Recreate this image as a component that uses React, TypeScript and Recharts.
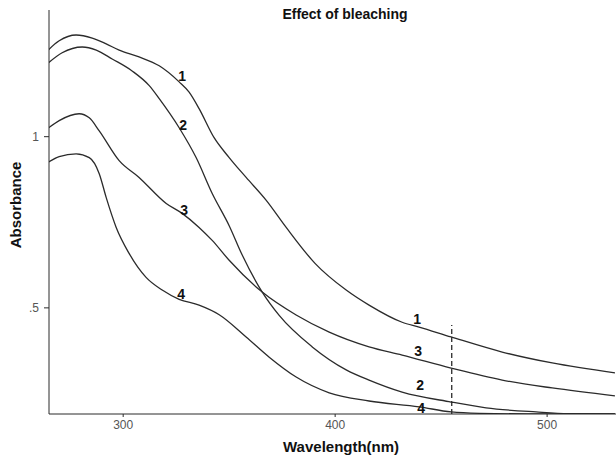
import { LineChart, Line, XAxis, YAxis, ReferenceLine, ReferenceDot } from "recharts"

// Absorbance spectra, one array per curve
const WL_1 = [264.6, 269.8, 277.8, 285.4, 292, 298.1, 307.5, 317, 326.4, 331.1, 335.8, 342.9, 350, 358, 367.5, 376.9, 390.5, 405.2, 416, 431.6, 439.6, 454.7, 478.8, 502.4, 532]
const ABS_1 = [1.253, 1.28, 1.297, 1.288, 1.271, 1.253, 1.233, 1.207, 1.16, 1.13, 1.082, 0.997, 0.939, 0.881, 0.814, 0.735, 0.63, 0.552, 0.508, 0.458, 0.444, 0.415, 0.371, 0.339, 0.31]

const WL_2 = [264.6, 271.2, 280.7, 287.3, 294.8, 304.2, 312.3, 317, 326.4, 334.4, 342, 350, 356.1, 365.6, 373.6, 389.2, 405.2, 416, 431.6, 454.7, 471.2, 494.8, 510, 532]
const ABS_2 = [1.215, 1.245, 1.262, 1.253, 1.227, 1.192, 1.149, 1.111, 1.026, 0.939, 0.834, 0.74, 0.655, 0.546, 0.478, 0.386, 0.319, 0.289, 0.254, 0.225, 0.208, 0.196, 0.191, 0.19]

const WL_3 = [264.2, 269.8, 279.2, 284, 288.7, 298.1, 307.5, 320.3, 327.8, 335.8, 342, 350, 365.6, 381.6, 397.2, 416, 431.6, 454.7, 478.8, 502.4, 532]
const ABS_3 = [1.023, 1.047, 1.067, 1.055, 1.017, 0.93, 0.881, 0.805, 0.776, 0.735, 0.697, 0.639, 0.546, 0.479, 0.429, 0.386, 0.362, 0.324, 0.289, 0.266, 0.243]

const WL_4 = [264.2, 269.8, 277.8, 284, 288.7, 292, 296.7, 302.8, 310.8, 318.4, 326.4, 335.8, 345.3, 358, 368.9, 381.6, 397.2, 416, 439.6, 454.7, 468, 500, 532]
const ABS_4 = [0.924, 0.942, 0.95, 0.939, 0.892, 0.822, 0.735, 0.659, 0.589, 0.552, 0.525, 0.508, 0.48, 0.415, 0.356, 0.298, 0.252, 0.228, 0.211, 0.196, 0.192, 0.19, 0.19]

const X_TICKS = [300, 400, 500]
const Y_TICKS = [0.5, 1]

// curve number labels (wavelength, absorbance)
const LABEL_NAMES = ["1", "2", "3", "4", "1", "3", "2", "4"]
const LABEL_WL = [327.8, 328.3, 328.8, 327.4, 438.7, 439.2, 440.1, 440.6]
const LABEL_ABS = [1.178, 1.035, 0.785, 0.54, 0.467, 0.374, 0.275, 0.208]

const CUT_WL = 455
const CUT_TOP = 0.45

const toRows = (wl: number[], abs: number[]) => wl.map((w, i) => ({ wl: w, a: abs[i] }))
const SERIES = [toRows(WL_1, ABS_1), toRows(WL_2, ABS_2), toRows(WL_3, ABS_3), toRows(WL_4, ABS_4)]

const FONT = "'Liberation Sans', Arial, sans-serif"
const INK = "#2b2b2b"

export default function App() {
  return (
    <div style={{ position: "absolute", left: 0, top: 0, width: 616, height: 460, background: "#fff", fontFamily: FONT }}>
      <LineChart width={616} height={460} margin={{ top: 10, right: 0, bottom: 16, left: 0 }}>
        <XAxis
          type="number"
          dataKey="wl"
          domain={[265, 532.5]}
          ticks={X_TICKS}
          allowDataOverflow
          height={30}
          stroke={INK}
          tickSize={3}
          tickMargin={3}
          tick={{ fill: "#555", fontSize: 12, fontFamily: FONT }}
        />
        <YAxis
          type="number"
          domain={[0.19, 1.37]}
          ticks={Y_TICKS}
          allowDataOverflow
          width={49}
          stroke={INK}
          tickSize={5}
          tickMargin={5}
          tickFormatter={(v) => (v === 1 ? "1" : ".5")}
          tick={{ fill: "#555", fontSize: 12, fontFamily: FONT }}
        />
        {SERIES.map((rows, i) => (
          <Line
            key={i}
            data={rows}
            dataKey="a"
            type="monotone"
            stroke={INK}
            strokeWidth={1.3}
            dot={false}
            isAnimationActive={false}
          />
        ))}
        <ReferenceLine
          segment={[{ x: CUT_WL, y: 0.19 }, { x: CUT_WL, y: CUT_TOP }]}
          stroke={INK}
          strokeWidth={1.3}
          strokeDasharray="5 3"
        />
        {LABEL_NAMES.map((n, i) => (
          <ReferenceDot
            key={i}
            x={LABEL_WL[i]}
            y={LABEL_ABS[i]}
            r={0}
            stroke="none"
            label={{ value: n, position: "center", fill: "#111", fontSize: 14, fontWeight: "bold", fontFamily: FONT }}
          />
        ))}
      </LineChart>
      <div style={{ position: "absolute", left: 0, top: 6, width: 690, textAlign: "center", fontSize: 14, fontWeight: "bold", color: "#111" }}>
        Effect of bleaching
      </div>
      <div style={{ position: "absolute", left: 283, top: 438, fontSize: 15, fontWeight: "bold", color: "#111" }}>
        Wavelength(nm)
      </div>
      <div
        style={{
          position: "absolute",
          left: 15,
          top: 205,
          transform: "translate(-50%, -50%) rotate(-90deg)",
          fontSize: 15,
          fontWeight: "bold",
          color: "#111",
          whiteSpace: "nowrap",
        }}
      >
        Absorbance
      </div>
    </div>
  )
}
